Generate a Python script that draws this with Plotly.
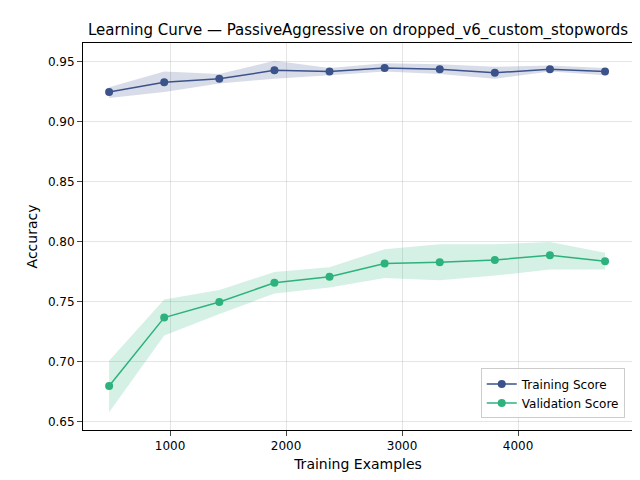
import plotly.graph_objects as go

sizes = [475, 950, 1425, 1900, 2375, 2850, 3325, 3800, 4275, 4750]
train_mean = [0.925, 0.933, 0.936, 0.943, 0.942, 0.945, 0.944, 0.941, 0.944, 0.942]
train_lo = [0.920, 0.925, 0.932, 0.936, 0.939, 0.942, 0.940, 0.936, 0.942, 0.939]
train_hi = [0.929, 0.942, 0.940, 0.951, 0.945, 0.949, 0.948, 0.946, 0.947, 0.945]
val_mean = [0.680, 0.737, 0.750, 0.766, 0.771, 0.782, 0.783, 0.785, 0.789, 0.784]
val_lo = [0.658, 0.722, 0.740, 0.757, 0.762, 0.770, 0.768, 0.772, 0.777, 0.777]
val_hi = [0.701, 0.752, 0.760, 0.775, 0.779, 0.794, 0.798, 0.798, 0.800, 0.791]

tc, vc = "#3b528b", "#2db27d"
fig = go.Figure()
for lo, hi, fill in [(train_lo, train_hi, "rgba(59,82,139,0.2)"), (val_lo, val_hi, "rgba(45,178,125,0.2)")]:
    fig.add_trace(go.Scatter(x=sizes, y=hi, mode="lines", line=dict(width=0, color=fill), showlegend=False, hoverinfo="skip"))
    fig.add_trace(go.Scatter(x=sizes, y=lo, mode="lines", line=dict(width=0, color=fill), fill="tonexty", fillcolor=fill, showlegend=False, hoverinfo="skip"))
fig.add_trace(go.Scatter(x=sizes, y=train_mean, mode="lines+markers", name="Training Score", line=dict(color=tc, width=1.5), marker=dict(size=8, color=tc)))
fig.add_trace(go.Scatter(x=sizes, y=val_mean, mode="lines+markers", name="Validation Score", line=dict(color=vc, width=1.5), marker=dict(size=8, color=vc)))

ax = dict(showline=True, linecolor="black", mirror=True, ticks="outside", gridcolor="rgba(0,0,0,0.1)", zeroline=False, automargin=False, tickfont=dict(size=12, color="black"))
fig.update_layout(
    width=640, height=480, plot_bgcolor="white", paper_bgcolor="white",
    font=dict(family="DejaVu Sans", size=12, color="black"),
    margin=dict(l=75, r=15, t=35, b=58, autoexpand=False),
    title=dict(text="Learning Curve — PassiveAggressive on dropped_v6_custom_stopwords", x=0.547, xanchor="center", y=0.955, yanchor="middle", font=dict(size=15)),
    xaxis=dict(ax, range=[250, 4991], tickvals=[1000, 2000, 3000, 4000], title=dict(text="Training Examples", standoff=6)),
    yaxis=dict(ax, range=[0.6433, 0.9658], tickvals=[0.65, 0.70, 0.75, 0.80, 0.85, 0.90, 0.95], tickformat=".2f", title=dict(text="Accuracy", standoff=6)),
    legend=dict(x=0.985, y=0.03, xanchor="right", yanchor="bottom", traceorder="normal", bordercolor="#cccccc", borderwidth=1, bgcolor="rgba(255,255,255,0.8)"),
)
fig.write_html("out.html")
